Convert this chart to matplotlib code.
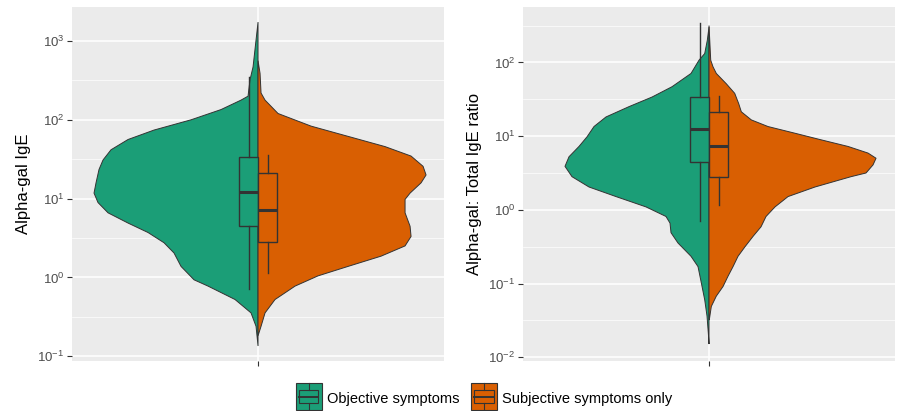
import matplotlib.pyplot as plt
from matplotlib.patches import Rectangle
from matplotlib.lines import Line2D
from matplotlib.legend_handler import HandlerBase
from matplotlib.ticker import FixedLocator, NullFormatter

plt.rcParams['font.family'] = ['Liberation Sans', 'DejaVu Sans']
plt.rcParams['mathtext.fontset'] = 'custom'
plt.rcParams['mathtext.rm'] = 'Liberation Sans'
plt.rcParams['mathtext.it'] = 'Liberation Sans:italic'

groups = ['Objective symptoms', 'Subjective symptoms only']
colors = ['#1B9E77', '#D95F02']

# violin outlines: log10 level and half width
# left panel - alpha-gal IgE
ige_obj_lvl = [3.24, 2.67, 2.51, 2.30, 2.25, 2.13, 2.00, 1.87, 1.75, 1.62, 1.49,
               1.37, 1.20, 1.07, 0.95, 0.82, 0.69, 0.57, 0.44, 0.31, 0.14,
               -0.03, -0.11, -0.28, -0.45, -0.62, -0.87]
ige_obj_w = [0, 5, 8, 10, 17, 37, 67, 104, 130, 147, 155,
             159, 162, 164, 160, 150, 130, 110, 94, 84, 77,
             64, 50, 23, 7, 2, 0]
ige_sub_lvl = [2.75, 2.59, 2.34, 2.25, 2.08, 1.92, 1.79, 1.66, 1.54, 1.41, 1.30,
               1.20, 1.07, 0.99, 0.82, 0.65, 0.52, 0.40, 0.27, 0.14, 0.02,
               -0.11, -0.28, -0.45, -0.62, -0.74]
ige_sub_w = [0, 2, 3, 7, 20, 53, 90, 127, 153, 165, 168,
             163, 152, 147, 147, 152, 153, 147, 123, 90, 60,
             37, 17, 7, 3, 0]

# right panel - alpha-gal : total IgE ratio
ratio_obj_lvl = [2.48, 2.30, 2.12, 2.03, 1.85, 1.67, 1.53, 1.40, 1.26, 1.13, 0.99,
                 0.86, 0.72, 0.59, 0.45, 0.31, 0.18, 0.04, -0.09, -0.18, -0.31,
                 -0.45, -0.63, -0.77, -0.99, -1.22, -1.44, -1.67, -1.82]
ratio_obj_w = [0, 1.7, 4.3, 10, 18, 37, 57, 80, 103, 115, 122,
               130, 140, 144, 137, 120, 93, 63, 43, 39, 38,
               31, 18, 11, 7.7, 4.3, 2, 0.7, 0]
ratio_sub_lvl = [2.50, 2.03, 1.94, 1.85, 1.71, 1.58, 1.44, 1.33, 1.22, 1.13, 1.04,
                 0.95, 0.86, 0.77, 0.70, 0.61, 0.50, 0.45, 0.31, 0.18, 0.04,
                 -0.09, -0.23, -0.36, -0.50, -0.63, -0.77, -0.90, -1.04, -1.17,
                 -1.31, -1.49]
ratio_sub_w = [0, 1.7, 4, 7.3, 17.3, 25.7, 29.7, 32.3, 42.3, 59, 85.7,
               112, 139, 159, 167, 164, 157, 142, 106, 79, 66,
               57, 52, 44, 36, 29, 24, 19, 14, 7.3,
               2.3, 0.3]

# box stats (log10): lower whisker, q1, median, q3, upper whisker
box_obj = [-0.15, 0.65, 1.09, 1.53, 2.54]
box_sub = [0.06, 0.45, 0.86, 1.33, 1.55]

panels = [
    dict(ylabel='Alpha-gal IgE', lim=(-1.06, 3.43), decades=[-1, 0, 1, 2, 3],
         obj=(ige_obj_lvl, ige_obj_w), sub=(ige_sub_lvl, ige_sub_w)),
    dict(ylabel='Alpha-gal: Total IgE ratio', lim=(-2.05, 2.75), decades=[-2, -1, 0, 1, 2],
         obj=(ratio_obj_lvl, ratio_obj_w), sub=(ratio_sub_lvl, ratio_sub_w)),
]

fig = plt.figure(figsize=(8.98, 4.11), dpi=100)
ax_pos = [[0.0802, 0.1217, 0.4143, 0.861], [0.5824, 0.1217, 0.4143, 0.861]]
edge = '#333333'
bw = 19  # half-box width

for pos, p in zip(ax_pos, panels):
    ax = fig.add_axes(pos)
    ax.set_facecolor('#EBEBEB')
    ax.set_yscale('log')
    for s in ax.spines.values():
        s.set_visible(False)

    for sign, (lvl, w), col in [(-1, p['obj'], colors[0]), (1, p['sub'], colors[1])]:
        xs = [0] + [sign * v for v in w] + [0]
        ys = [10 ** lvl[0]] + [10 ** v for v in lvl] + [10 ** lvl[-1]]
        ax.fill(xs, ys, facecolor=col, edgecolor=edge, lw=0.7, zorder=2)

    for sign, st, col in [(-1, box_obj, colors[0]), (1, box_sub, colors[1])]:
        stats = [dict(whislo=10 ** st[0], q1=10 ** st[1], med=10 ** st[2],
                      q3=10 ** st[3], whishi=10 ** st[4])]
        ax.bxp(stats, positions=[sign * bw / 2], widths=bw, patch_artist=True,
               showcaps=False, showfliers=False,
               boxprops=dict(facecolor=col, edgecolor=edge, lw=1.0),
               whiskerprops=dict(color=edge, lw=1.0),
               medianprops=dict(color=edge, lw=2.2), zorder=3)

    ax.set_xlim(-186, 186)
    ax.set_ylim(10 ** p['lim'][0], 10 ** p['lim'][1])
    ax.set_xticks([0])
    ax.set_xticklabels([''])
    ax.set_yticks([10 ** k for k in p['decades']])
    ax.set_yticklabels([f'$10^{{{k}}}$' for k in p['decades']])
    ax.yaxis.set_minor_locator(FixedLocator([10 ** (k + 0.5) for k in range(-3, 4)]))
    ax.yaxis.set_minor_formatter(NullFormatter())
    ax.tick_params(axis='both', which='major', length=3.5, width=0.8, color=edge,
                   labelsize=9.5, labelcolor='#4D4D4D', pad=2)
    ax.tick_params(axis='y', which='minor', length=0)
    ax.grid(True, which='major', color='white', lw=1.1, zorder=0)
    ax.grid(True, which='minor', axis='y', color='white', lw=0.5, zorder=0)
    ax.set_axisbelow(True)
    ax.set_ylabel(p['ylabel'], fontsize=12, color='black', labelpad=4.5)


class BoxViolinKey(HandlerBase):
    def create_artists(self, legend, orig, xd, yd, width, height, fontsize, trans):
        col = orig.get_facecolor()
        x0 = -xd
        cy = -yd + height / 2 + 1
        h = 20.0
        y0 = cy - h / 2
        arts = [Rectangle((x0, y0), width, h, facecolor=col, edgecolor=edge,
                          lw=0.8, transform=trans)]
        arts.append(Rectangle((x0 + 0.125 * width, y0 + 0.25 * h), 0.75 * width,
                              0.5 * h, facecolor='none', edgecolor=edge, lw=0.8,
                              transform=trans))
        arts.append(Line2D([x0 + 0.125 * width, x0 + 0.875 * width],
                           [y0 + 0.5 * h] * 2, color=edge, lw=1.4, transform=trans))
        for a, b in [(0.0, 0.25), (0.75, 1.0)]:
            arts.append(Line2D([x0 + 0.5 * width] * 2, [y0 + a * h, y0 + b * h],
                               color=edge, lw=0.8, transform=trans))
        return arts


handles = [Rectangle((0, 0), 1, 1, facecolor=c) for c in colors]
fig.legend(handles, groups, loc='center', bbox_to_anchor=(0.539, 0.030), ncol=2,
           frameon=False, fontsize=10.5, handlelength=1.78, handleheight=1.0,
           handletextpad=0.35, columnspacing=0.8,
           handler_map={Rectangle: BoxViolinKey()})

fig.savefig('out.png', dpi=100)
